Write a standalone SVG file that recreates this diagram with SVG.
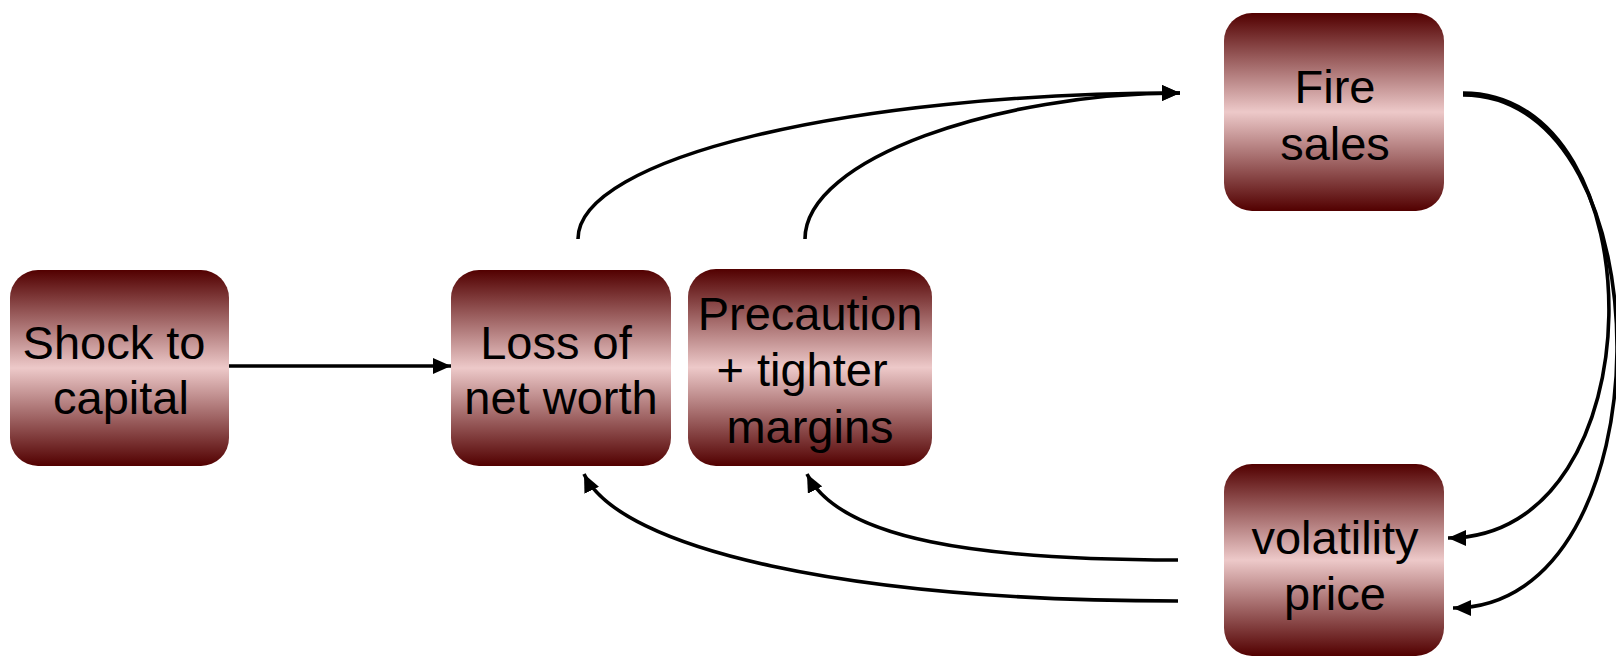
<svg xmlns="http://www.w3.org/2000/svg" width="1616" height="658" viewBox="0 0 1616 658">
<style>
.box{fill:url(#g);}
.t{font-family:"Liberation Sans",Arial,sans-serif;font-size:47px;fill:#000;text-anchor:middle;}
.c{fill:none;stroke:#000;stroke-width:3.6;}
</style>
<defs>
<linearGradient id="g" x1="0" y1="0" x2="0" y2="1">
<stop offset="0" stop-color="#520000"/>
<stop offset="0.5" stop-color="#edc9c9"/>
<stop offset="1" stop-color="#520000"/>
</linearGradient>
<marker id="a" markerUnits="userSpaceOnUse" markerWidth="20" markerHeight="16" refX="18" refY="8" orient="auto">
<path d="M0,0 L18,8 L0,16 Z" fill="#000"/>
</marker>
</defs>
<g id="connectors">
<path class="c" d="M229,366 L451,366" stroke-width="4.6" marker-end="url(#a)"/>
<path class="c" d="M578,239 C578,158 848,93 1180,93" marker-end="url(#a)"/>
<path class="c" d="M805,239 C805,158 1000,93 1180,93" marker-end="url(#a)"/>
<path class="c" d="M1463,93 C1660,93 1660,538 1448,538" marker-end="url(#a)"/>
<path class="c" d="M1463,95 C1670,95 1670,608 1453,608" marker-end="url(#a)"/>
<path class="c" d="M1178,560 C980,560 840,540 807,474" marker-end="url(#a)"/>
<path class="c" d="M1178,601 C850,601 620,550 584,474" marker-end="url(#a)"/>
</g>
<g id="shock">
<rect class="box" x="10" y="270" width="219" height="196" rx="28"/>
<text class="t" x="114" y="359">Shock to</text>
<text class="t" x="121" y="414">capital</text>
</g>
<g id="loss">
<rect class="box" x="451" y="270" width="220" height="196" rx="28"/>
<text class="t" x="556" y="359">Loss of</text>
<text class="t" x="561" y="414">net worth</text>
</g>
<g id="precaution">
<rect class="box" x="688" y="269" width="244" height="197" rx="28"/>
<text class="t" x="810" y="330">Precaution</text>
<text class="t" x="802" y="386">+ tighter</text>
<text class="t" x="810" y="443">margins</text>
</g>
<g id="firesales">
<rect class="box" x="1224" y="13" width="220" height="198" rx="28"/>
<text class="t" x="1335" y="103">Fire</text>
<text class="t" x="1335" y="160">sales</text>
</g>
<g id="volatility">
<rect class="box" x="1224" y="464" width="220" height="192" rx="28"/>
<text class="t" x="1335" y="554">volatility</text>
<text class="t" x="1335" y="610">price</text>
</g>
</svg>
